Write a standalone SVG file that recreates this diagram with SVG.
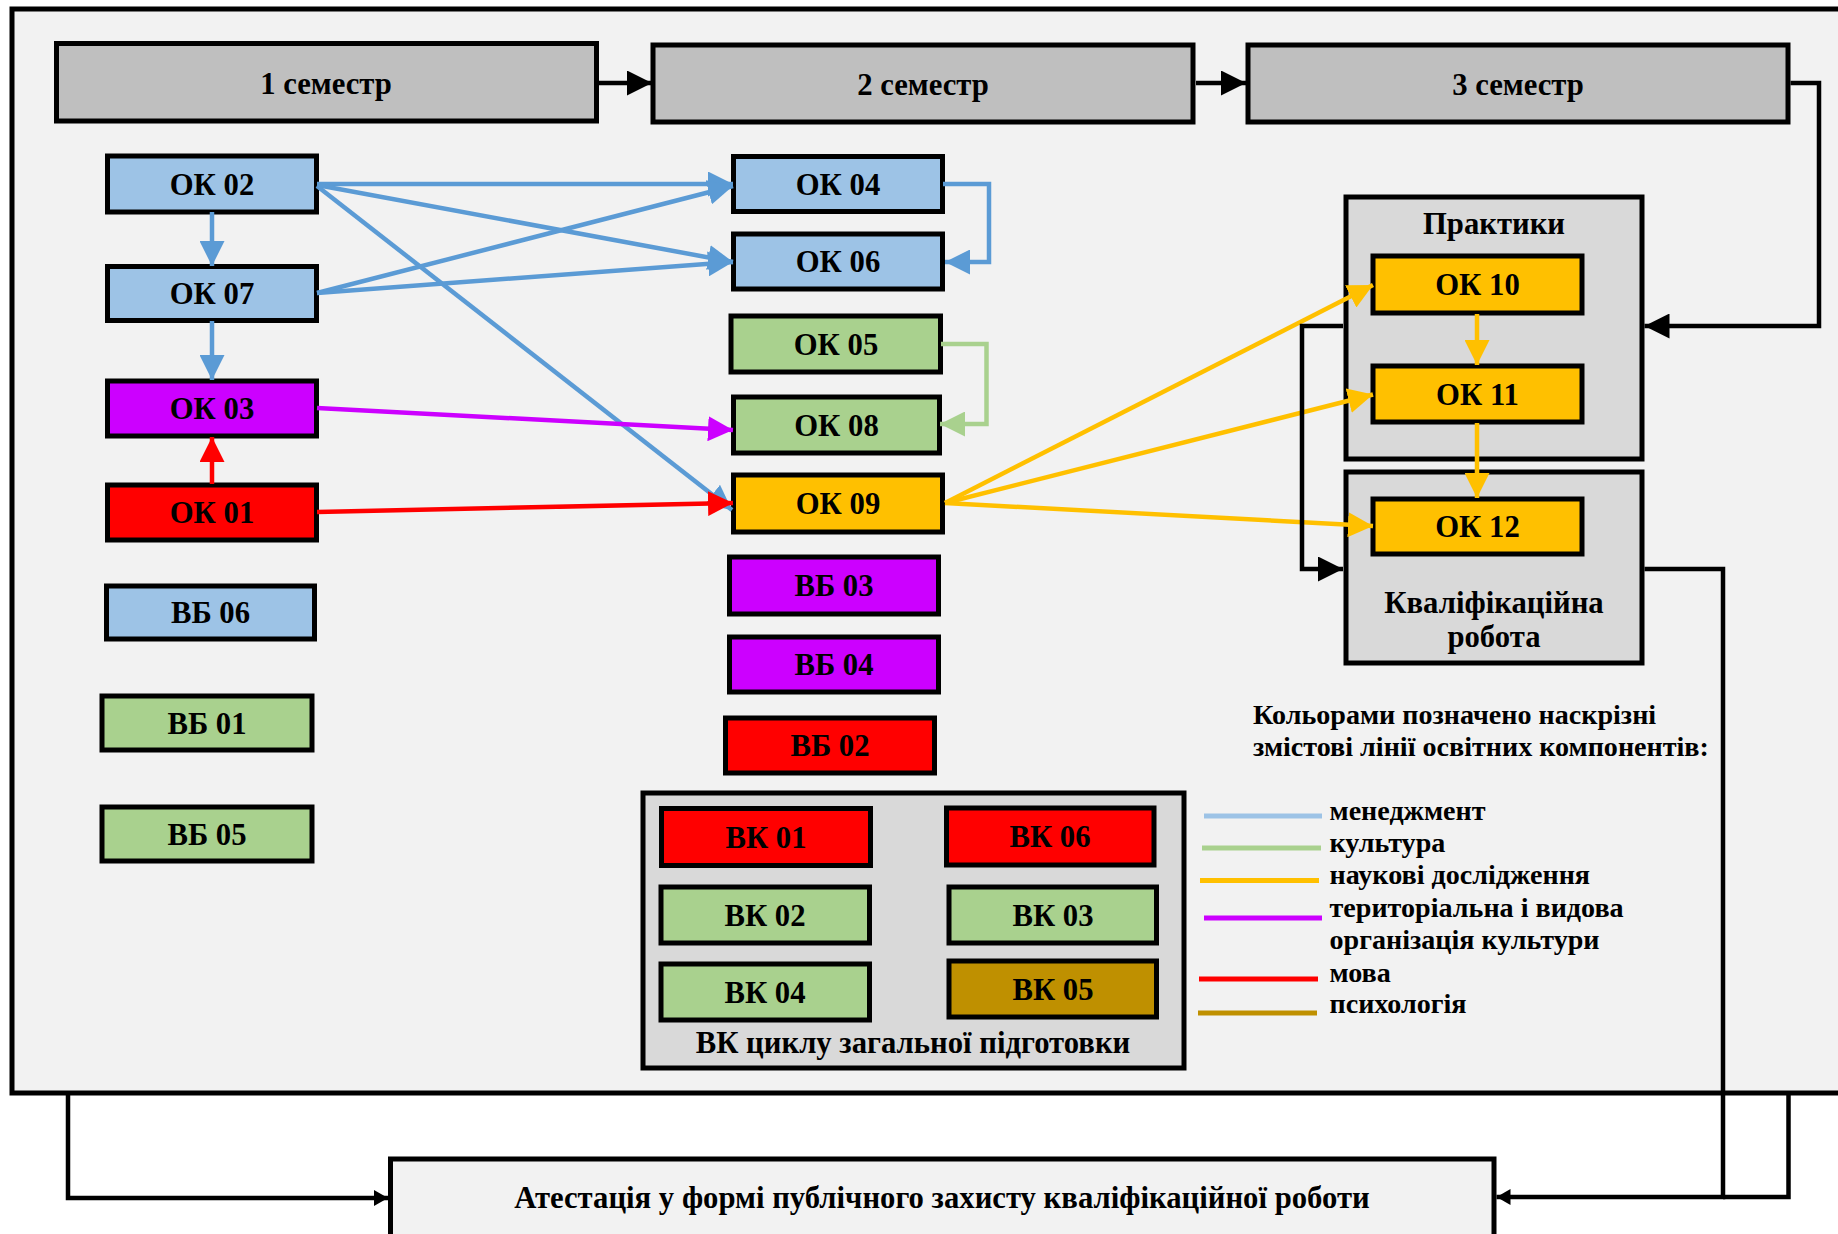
<svg xmlns="http://www.w3.org/2000/svg" width="1838" height="1234" viewBox="0 0 1838 1234">
<defs>
<style>
text{font-family:"Liberation Serif","Times New Roman",serif;font-weight:bold;fill:#000}
.lb{font-size:30.7px;text-anchor:middle}
.lg{font-size:28.1px}
.bx{stroke:#000;stroke-width:5}
.sem{fill:#BFBFBF}
.blue{fill:#9DC3E6}
.green{fill:#A9D18E}
.purple{fill:#CC00FF}
.red{fill:#FF0000}
.yellow{fill:#FFC000}
.brown{fill:#BF9000}
.grp{fill:#D9D9D9}
.cb{stroke:#5B9BD5;stroke-width:4.5;fill:none}
.cg{stroke:#A9D18E;stroke-width:4.5;fill:none}
.cp{stroke:#CC00FF;stroke-width:4.5;fill:none}
.cr{stroke:#FF0000;stroke-width:4.5;fill:none}
.cy{stroke:#FFC000;stroke-width:4.5;fill:none}
.ck{stroke:#000;stroke-width:4.5;fill:none}
.leg{stroke-width:5}
</style>
<marker id="mb" viewBox="0 0 25 25" refX="25" refY="12.5" markerWidth="25" markerHeight="25" markerUnits="userSpaceOnUse" orient="auto"><path d="M0,0 L25,12.5 L0,25 z" fill="#5B9BD5"/></marker>
<marker id="mg" viewBox="0 0 25 25" refX="25" refY="12.5" markerWidth="25" markerHeight="25" markerUnits="userSpaceOnUse" orient="auto"><path d="M0,0 L25,12.5 L0,25 z" fill="#A9D18E"/></marker>
<marker id="mp" viewBox="0 0 25 25" refX="25" refY="12.5" markerWidth="25" markerHeight="25" markerUnits="userSpaceOnUse" orient="auto"><path d="M0,0 L25,12.5 L0,25 z" fill="#CC00FF"/></marker>
<marker id="mr" viewBox="0 0 25 25" refX="25" refY="12.5" markerWidth="25" markerHeight="25" markerUnits="userSpaceOnUse" orient="auto"><path d="M0,0 L25,12.5 L0,25 z" fill="#FF0000"/></marker>
<marker id="my" viewBox="0 0 25 25" refX="25" refY="12.5" markerWidth="25" markerHeight="25" markerUnits="userSpaceOnUse" orient="auto"><path d="M0,0 L25,12.5 L0,25 z" fill="#FFC000"/></marker>
<marker id="mk" viewBox="0 0 25 25" refX="25" refY="12.5" markerWidth="25" markerHeight="25" markerUnits="userSpaceOnUse" orient="auto"><path d="M0,0 L25,12.5 L0,25 z" fill="#000"/></marker>
<marker id="mks" viewBox="0 0 14 16" refX="14" refY="8" markerWidth="14" markerHeight="16" markerUnits="userSpaceOnUse" orient="auto"><path d="M0,0 L14,8 L0,16 z" fill="#000"/></marker>
</defs>
<rect x="0" y="0" width="1838" height="1234" fill="#FFFFFF"/>
<g id="frame"><rect x="12" y="9" width="1850" height="1084" fill="#F2F2F2" stroke="#000" stroke-width="5"/></g>

<g id="sem1"><rect class="bx sem" x="56.5" y="43.5" width="540" height="77.5"/><text class="lb" x="326" y="93.5">1 семестр</text></g>
<g id="sem2"><rect class="bx sem" x="653" y="45" width="540" height="77"/><text class="lb" x="923" y="94.5">2 семестр</text></g>
<g id="sem3"><rect class="bx sem" x="1248" y="45" width="540" height="77"/><text class="lb" x="1518" y="94.5">3 семестр</text></g>

<g id="ok02"><rect class="bx blue" x="107.5" y="156" width="209" height="56"/><text class="lb" x="212" y="194.5">ОК 02</text></g>
<g id="ok07"><rect class="bx blue" x="107.5" y="266.5" width="209" height="54"/><text class="lb" x="212" y="304">ОК 07</text></g>
<g id="ok03"><rect class="bx purple" x="107.5" y="381" width="209" height="55"/><text class="lb" x="212" y="419">ОК 03</text></g>
<g id="ok01"><rect class="bx red" x="107.5" y="485" width="209" height="55"/><text class="lb" x="212" y="523">ОК 01</text></g>
<g id="vb06"><rect class="bx blue" x="106.5" y="586" width="208" height="53"/><text class="lb" x="210.5" y="623">ВБ 06</text></g>
<g id="vb01"><rect class="bx green" x="102" y="696" width="210" height="54"/><text class="lb" x="207" y="733.5">ВБ 01</text></g>
<g id="vb05"><rect class="bx green" x="102" y="807" width="210" height="54"/><text class="lb" x="207" y="844.5">ВБ 05</text></g>

<g id="ok04"><rect class="bx blue" x="733.5" y="156.5" width="209" height="55"/><text class="lb" x="838" y="194.5">ОК 04</text></g>
<g id="ok06"><rect class="bx blue" x="733.5" y="234" width="209" height="55"/><text class="lb" x="838" y="272">ОК 06</text></g>
<g id="ok05"><rect class="bx green" x="731" y="316" width="209.5" height="56"/><text class="lb" x="836" y="354.5">ОК 05</text></g>
<g id="ok08"><rect class="bx green" x="733.5" y="397" width="206" height="56"/><text class="lb" x="836.5" y="435.5">ОК 08</text></g>
<g id="ok09"><rect class="bx yellow" x="733.5" y="475" width="209" height="57"/><text class="lb" x="838" y="514">ОК 09</text></g>
<g id="vb03"><rect class="bx purple" x="729.5" y="557" width="209" height="57"/><text class="lb" x="834" y="596">ВБ 03</text></g>
<g id="vb04"><rect class="bx purple" x="729.5" y="637" width="209" height="55"/><text class="lb" x="834" y="675">ВБ 04</text></g>
<g id="vb02"><rect class="bx red" x="725.5" y="718" width="209" height="55"/><text class="lb" x="830" y="756">ВБ 02</text></g>

<g id="vk-group"><rect class="bx grp" x="643" y="793" width="541" height="275"/><text class="lb" x="913" y="1052.5">ВК циклу загальної підготовки</text></g>
<g id="vk01"><rect class="bx red" x="661.5" y="808.5" width="209" height="57"/><text class="lb" x="766" y="847.5">ВК 01</text></g>
<g id="vk06"><rect class="bx red" x="946.5" y="808" width="207.5" height="57"/><text class="lb" x="1050" y="847">ВК 06</text></g>
<g id="vk02"><rect class="bx green" x="661" y="887" width="208.5" height="56"/><text class="lb" x="765" y="925.5">ВК 02</text></g>
<g id="vk03"><rect class="bx green" x="949" y="887" width="207.5" height="56"/><text class="lb" x="1053" y="925.5">ВК 03</text></g>
<g id="vk04"><rect class="bx green" x="661" y="964" width="208.5" height="56"/><text class="lb" x="765" y="1002.5">ВК 04</text></g>
<g id="vk05"><rect class="bx brown" x="949" y="961" width="207.5" height="56"/><text class="lb" x="1053" y="999.5">ВК 05</text></g>

<g id="praktyky"><rect class="bx grp" x="1346" y="197" width="296" height="262"/><text class="lb" x="1494" y="233.5">Практики</text></g>
<g id="kvalif"><rect class="bx grp" x="1346" y="472" width="296" height="191"/><text class="lb" x="1494" y="612.5">Кваліфікаційна</text><text class="lb" x="1494" y="647">робота</text></g>
<g id="ok10"><rect class="bx yellow" x="1373" y="256" width="209" height="57"/><text class="lb" x="1477.5" y="295">ОК 10</text></g>
<g id="ok11"><rect class="bx yellow" x="1373" y="366" width="209" height="56"/><text class="lb" x="1477.5" y="404.5">ОК 11</text></g>
<g id="ok12"><rect class="bx yellow" x="1373" y="499" width="209" height="55"/><text class="lb" x="1477.5" y="537">ОК 12</text></g>

<g id="atest"><rect x="390.5" y="1159" width="1103.5" height="90" fill="#F2F2F2" stroke="#000" stroke-width="5"/><text class="lb" x="942" y="1207.5">Атестація у формі публічного захисту кваліфікаційної роботи</text></g>

<g id="connectors">
<path class="cb" d="M317,184 L733,184" marker-end="url(#mb)"/>
<path class="cb" d="M317,185 L733,262" marker-end="url(#mb)"/>
<path class="cb" d="M317,186 L732,510" marker-end="url(#mb)"/>
<path class="cb" d="M317,293 L733,186" marker-end="url(#mb)"/>
<path class="cb" d="M317,293 L733,262" marker-end="url(#mb)"/>
<path class="cb" d="M212,212 L212,266" marker-end="url(#mb)"/>
<path class="cb" d="M212,321 L212,380" marker-end="url(#mb)"/>
<path class="cb" d="M943,184 H989 V262 H945" marker-end="url(#mb)"/>
<path class="cg" d="M941,344 H986.5 V424 H940" marker-end="url(#mg)"/>
<path class="cp" d="M317,408 L733,430" marker-end="url(#mp)"/>
<path class="cr" d="M317,512 L733,503" marker-end="url(#mr)"/>
<path class="cr" d="M212,484 L212,437" marker-end="url(#mr)"/>
<path class="cy" d="M945,503 L1373,285" marker-end="url(#my)"/>
<path class="cy" d="M945,503 L1373,394.5" marker-end="url(#my)"/>
<path class="cy" d="M945,503 L1373,526" marker-end="url(#my)"/>
<path class="cy" d="M1477,314 V365" marker-end="url(#my)"/>
<path class="cy" d="M1477,423 V498" marker-end="url(#my)"/>
<path class="ck" d="M599,83 H652" marker-end="url(#mk)"/>
<path class="ck" d="M1196,83 H1246" marker-end="url(#mk)"/>
<path class="ck" d="M1790.5,83 H1819 V326 H1644.5" marker-end="url(#mk)"/>
<path class="ck" d="M1343,326 H1302 V569 H1343" marker-end="url(#mk)"/>
<path class="ck" d="M1644.5,569 H1723 V1197 H1496.5" marker-end="url(#mks)"/>
<path class="ck" d="M1788.5,1093 V1197 H1723"/>
<path class="ck" d="M68,1093 V1198 H388" marker-end="url(#mks)"/>
</g>

<g id="legend">
<text class="lg" x="1253" y="723.5">Кольорами позначено наскрізні</text>
<text class="lg" x="1253" y="756">змістові лінії освітних компонентів:</text>
<line class="leg" x1="1204" y1="816" x2="1322" y2="816" stroke="#9DC3E6"/>
<line class="leg" x1="1202" y1="848" x2="1321" y2="848" stroke="#A9D18E"/>
<line class="leg" x1="1200" y1="880.5" x2="1319" y2="880.5" stroke="#FFC000"/>
<line class="leg" x1="1204" y1="918" x2="1322" y2="918" stroke="#CC00FF"/>
<line class="leg" x1="1199" y1="979" x2="1318" y2="979" stroke="#FF0000"/>
<line class="leg" x1="1198" y1="1013" x2="1317" y2="1013" stroke="#BF9000"/>
<text class="lg" x="1329.5" y="820">менеджмент</text>
<text class="lg" x="1329.5" y="852">культура</text>
<text class="lg" x="1329.5" y="884">наукові дослідження</text>
<text class="lg" x="1329.5" y="917">територіальна і видова</text>
<text class="lg" x="1329.5" y="948.5">організація культури</text>
<text class="lg" x="1329.5" y="981.5">мова</text>
<text class="lg" x="1329.5" y="1013">психологія</text>
</g>
</svg>
